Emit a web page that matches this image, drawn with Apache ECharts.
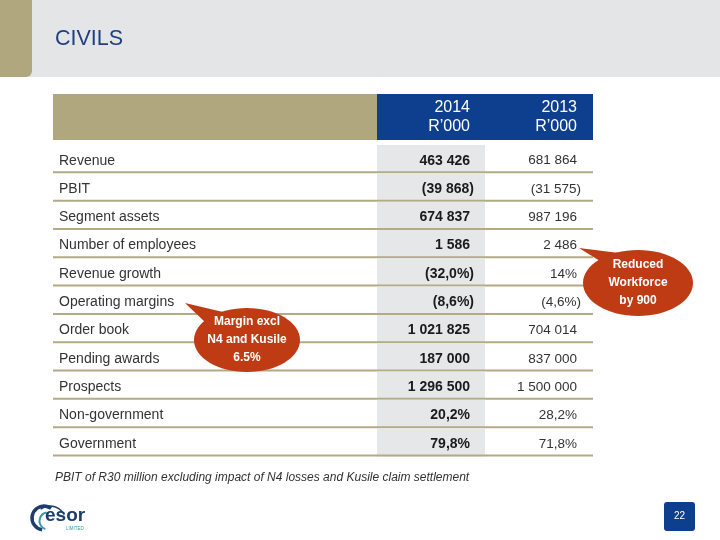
<!DOCTYPE html>
<html>
<head>
<meta charset="utf-8">
<script src="https://cdn.jsdelivr.net/npm/echarts@6/dist/echarts.min.js"></script>
<style>
html,body{margin:0;padding:0;background:#fff;}
#main{width:720px;height:540px;}
</style>
</head>
<body>
<div id="main"></div>
<script>
const title = 'CIVILS';
const rowLabels = ['Revenue', 'PBIT', 'Segment assets', 'Number of employees', 'Revenue growth',
  'Operating margins', 'Order book', 'Pending awards', 'Prospects', 'Non-government', 'Government'];
const values2014 = ['463 426', '(39 868)', '674 837', '1 586', '(32,0%)', '(8,6%)',
  '1 021 825', '187 000', '1 296 500', '20,2%', '79,8%'];
const values2013 = ['681 864', '(31 575)', '987 196', '2 486', '14%', '(4,6%)',
  '704 014', '837 000', '1 500 000', '28,2%', '71,8%'];
const columnHeaders = ['2014\nR\u2019000', '2013\nR\u2019000'];
const calloutWorkforce = 'Reduced\nWorkforce\nby 900';
const calloutMargin = 'Margin excl\nN4 and Kusile\n6.5%';
const footnote = 'PBIT of R30 million excluding impact of N4 losses and Kusile claim settlement';
const pageNumber = '22';

const FONT = '"Liberation Sans", Arial, sans-serif';
const TAN = '#b1a77f';
const BLUE = '#0d3f8e';
const LINE = '#b3aa86';
const GREYCOL = '#e6e7e9';
const BUBBLE = '#bf3b14';

const chart = echarts.init(document.getElementById('main'), null, {renderer: 'canvas'});

function renderRow(params, api) {
  const i = api.value(1);
  const h = api.size([0, 1])[1];
  const cy = api.coord([0, i])[1];
  const top = cy - h / 2;
  const bottom = cy + h / 2;
  const ty = cy + 1.5;
  const xAt = v => api.coord([v, i])[0];
  const hang = t => (t.endsWith(')') ? 4 : 0);
  const v14 = values2014[params.dataIndex];
  const v13 = values2013[params.dataIndex];
  return {
    type: 'group',
    children: [
      {type: 'rect', shape: {x: xAt(324), y: top, width: xAt(432) - xAt(324), height: h},
        style: {fill: GREYCOL}},
      {type: 'line', shape: {x1: xAt(0), y1: bottom - 1, x2: xAt(540), y2: bottom - 1},
        style: {stroke: LINE, lineWidth: 2}},
      {type: 'text', style: {x: xAt(6), y: ty, text: rowLabels[params.dataIndex],
        align: 'left', verticalAlign: 'middle', fill: '#333333', fontSize: 14, fontFamily: FONT}},
      {type: 'text', style: {x: xAt(417) + hang(v14), y: ty, text: v14,
        align: 'right', verticalAlign: 'middle', fill: '#1a1a1a', fontSize: 14, fontWeight: 'bold', fontFamily: FONT}},
      {type: 'text', style: {x: xAt(524) + hang(v13), y: ty, text: v13,
        align: 'right', verticalAlign: 'middle', fill: '#333333', fontSize: 13.5, fontFamily: FONT}}
    ]
  };
}

function bubble(cx, cy, rx, ry, tail, text) {
  return [
    {type: 'polygon', shape: {points: tail}, style: {fill: BUBBLE}, z: 10},
    {type: 'ellipse', shape: {cx: cx, cy: cy, rx: rx, ry: ry}, style: {fill: BUBBLE}, z: 10},
    {type: 'text', x: cx, y: cy, z: 11, style: {text: text, align: 'center', verticalAlign: 'middle',
      fill: '#ffffff', fontSize: 12, fontWeight: 'bold', fontFamily: FONT, lineHeight: 18}}
  ];
}

const option = {
  backgroundColor: '#ffffff',
  animation: false,
  grid: {left: 53, top: 145, width: 540, height: 311.5},
  xAxis: {type: 'value', min: 0, max: 540, show: false},
  yAxis: {type: 'category', data: rowLabels, inverse: true, show: false},
  series: [{
    type: 'custom',
    renderItem: renderRow,
    encode: {x: 0, y: 1},
    data: rowLabels.map((r, i) => [0, i]),
    silent: true
  }],
  graphic: [
    // title band
    {type: 'rect', shape: {x: 0, y: 0, width: 720, height: 77}, style: {fill: '#e4e5e7'}, z: 0},
    {type: 'rect', shape: {x: 0, y: 0, width: 32, height: 77, r: [0, 0, 6, 0]}, style: {fill: TAN}, z: 1},
    {type: 'text', x: 55, y: 39, style: {text: title, fill: '#1f3f80', fontSize: 21.5,
      fontFamily: FONT, verticalAlign: 'middle'}},
    // table header
    {type: 'rect', shape: {x: 53, y: 94, width: 324, height: 46}, style: {fill: TAN}},
    {type: 'rect', shape: {x: 377, y: 94, width: 216, height: 46}, style: {fill: BLUE}},
    {type: 'text', x: 470, y: 117.5, style: {text: columnHeaders[0], align: 'right', verticalAlign: 'middle',
      fill: '#ffffff', fontSize: 16, lineHeight: 19, fontFamily: FONT}},
    {type: 'text', x: 577, y: 117.5, style: {text: columnHeaders[1], align: 'right', verticalAlign: 'middle',
      fill: '#ffffff', fontSize: 16, lineHeight: 19, fontFamily: FONT}},
    // callouts
    ...bubble(638, 283, 55, 33, [[579, 248], [600, 261], [619, 253]], calloutWorkforce),
    ...bubble(247, 340, 53, 32, [[185, 303], [205, 322], [223, 312]], calloutMargin),
    // footnote
    {type: 'text', x: 55, y: 478, style: {text: footnote, fill: '#333333', fontSize: 12,
      fontStyle: 'italic', fontFamily: FONT, verticalAlign: 'middle'}},
    // logo
    {type: 'arc', shape: {cx: 44, cy: 518, r: 12, startAngle: Math.PI * 0.55, endAngle: Math.PI * 1.7},
      style: {stroke: '#1c3d6e', lineWidth: 3.5, fill: null}},
    {type: 'arc', shape: {cx: 48, cy: 521, r: 8.5, startAngle: Math.PI * 0.6, endAngle: Math.PI * 1.45},
      style: {stroke: '#3a9aa5', lineWidth: 2, fill: null}},
    {type: 'arc', shape: {cx: 50, cy: 522, r: 16, startAngle: Math.PI * 1.3, endAngle: Math.PI * 1.85},
      style: {stroke: '#1c3d6e', lineWidth: 1.5, fill: null}},
    {type: 'text', x: 45, y: 516, style: {text: 'esor', fill: '#1c3d6e', fontSize: 19, fontWeight: 'bold',
      fontFamily: FONT, verticalAlign: 'middle'}},
    {type: 'text', x: 66, y: 529, style: {text: 'LIMITED', fill: '#3a9aa5', fontSize: 4.5,
      fontFamily: FONT, verticalAlign: 'middle'}},
    // page number
    {type: 'rect', shape: {x: 664, y: 502, width: 31, height: 29, r: 3}, style: {fill: BLUE}},
    {type: 'text', x: 679.5, y: 516.5, style: {text: pageNumber, fill: '#ffffff', fontSize: 10,
      fontFamily: FONT, align: 'center', verticalAlign: 'middle'}}
  ]
};
chart.setOption(option);
</script>
</body>
</html>
